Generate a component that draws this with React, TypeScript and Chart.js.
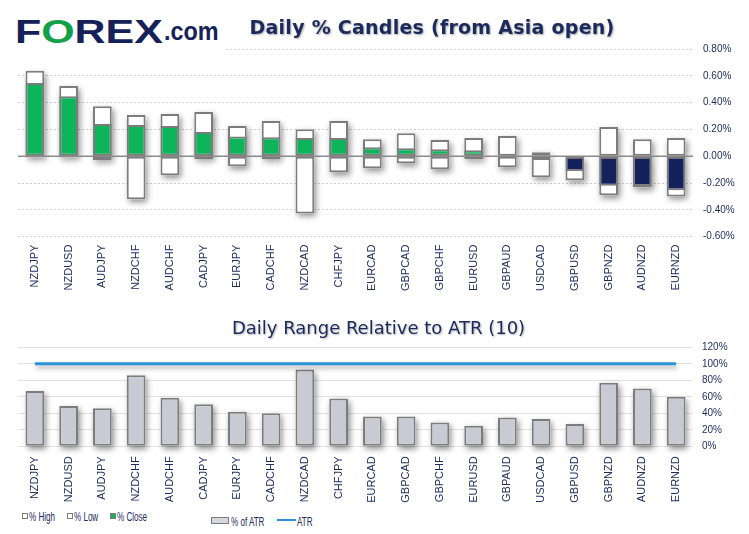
import React, { useEffect, useRef } from "react";
import { Chart, registerables } from "chart.js";
Chart.register(...registerables);

// ---- Data ----
const pairs = [
  "NZDJPY", "NZDUSD", "AUDJPY", "NZDCHF", "AUDCHF", "CADJPY", "EURJPY", "CADCHF", "NZDCAD", "CHFJPY",
  "EURCAD", "GBPCAD", "GBPCHF", "EURUSD", "GBPAUD", "USDCAD", "GBPUSD", "GBPNZD", "AUDNZD", "EURNZD",
];
const pctHigh = [0.637, 0.524, 0.372, 0.307, 0.315, 0.33, 0.225, 0.262, 0.202, 0.262, 0.127, 0.172, 0.12, 0.135, 0.15, 0.03, 0.0, 0.217, 0.127, 0.135];
const pctClose = [0.547, 0.447, 0.24, 0.232, 0.225, 0.18, 0.147, 0.142, 0.135, 0.135, 0.067, 0.06, 0.052, 0.045, 0.005, -0.028, -0.112, -0.22, -0.225, -0.255];
const pctLow = [-0.01, -0.01, -0.028, -0.322, -0.142, -0.02, -0.075, -0.02, -0.427, -0.12, -0.09, -0.052, -0.097, -0.022, -0.082, -0.157, -0.18, -0.292, -0.232, -0.3];
const pctOfAtr = [67, 49, 46, 86, 59, 51, 42, 40, 93, 58, 36, 36, 29, 25, 35, 33, 27, 77, 70, 60];
const atrLevel = [100, 100, 100, 100, 100, 100, 100, 100, 100, 100, 100, 100, 100, 100, 100, 100, 100, 100, 100, 100];

const NAVY = "#1b2a5c";
const GREEN = "#0db45a";
const DARK = "#13225b";
const EDGE = "#7c7c7c";
const FONT = "'Liberation Sans', Arial, sans-serif";

const shadowPlugin = {
  id: "shadowPlugin",
  beforeDatasetsDraw(chart: any, _args: any, opts: any) {
    const ctx = chart.ctx;
    ctx.save();
    ctx.shadowColor = "rgba(0,0,0,0.45)";
    ctx.shadowBlur = 6;
    ctx.shadowOffsetX = 2;
    ctx.shadowOffsetY = 3;
    ctx.fillStyle = "#ffffff";
    chart.data.datasets.forEach((ds: any, i: number) => {
      const meta = chart.getDatasetMeta(i);
      if (meta.type !== "bar" || ds.noShadow) return;
      meta.data.forEach((el: any) => {
        const p = el.getProps(["x", "y", "base", "width"], true);
        const top = Math.min(p.y, p.base);
        const h = Math.abs(p.base - p.y);
        ctx.fillRect(p.x - p.width / 2, top, p.width, h);
      });
    });
    ctx.restore();
    if (opts && opts.zeroLine) {
      const y = chart.scales.y.getPixelForValue(0);
      const a = chart.chartArea;
      ctx.save();
      ctx.strokeStyle = "#8a8a8a";
      ctx.lineWidth = 1.5;
      ctx.beginPath();
      ctx.moveTo(a.left, y);
      ctx.lineTo(a.right, y);
      ctx.stroke();
      ctx.restore();
    }
  },
  beforeDatasetDraw(chart: any, args: any) {
    if (args.meta.type === "line") {
      const ctx = chart.ctx;
      ctx.save();
      ctx.shadowColor = "rgba(0,0,0,0.35)";
      ctx.shadowBlur = 5;
      ctx.shadowOffsetX = 1;
      ctx.shadowOffsetY = 3;
    }
  },
  afterDatasetDraw(chart: any, args: any) {
    if (args.meta.type === "line") chart.ctx.restore();
  },
};

export default function App() {
  const c1 = useRef<HTMLCanvasElement>(null);
  const c2 = useRef<HTMLCanvasElement>(null);

  useEffect(() => {
    const barCommon = {
      borderColor: EDGE,
      borderWidth: 2,
      borderSkipped: false,
      grouped: false,
      barPercentage: 0.555,
      categoryPercentage: 1,
    };
    const xAxis = (pad: number, h: number) => ({
      grid: { display: false },
      border: { display: false },
      ticks: {
        minRotation: 90,
        maxRotation: 90,
        autoSkip: false,
        color: NAVY,
        padding: pad,
        font: { family: FONT, size: 11 },
      },
      afterFit: (s: any) => {
        s.height = h;
        s.paddingLeft = 0;
        s.paddingRight = 0;
      },
    });
    const yFit = (s: any) => {
      s.width = 56;
      s.paddingTop = 0;
      s.paddingBottom = 0;
    };

    const ch1 = new Chart(c1.current!, {
      type: "bar",
      data: {
        labels: pairs,
        datasets: [
          {
            label: "% Close",
            data: pctClose.map((c) => [0, c]),
            backgroundColor: pctClose.map((c) => (c >= 0 ? GREEN : DARK)),
            order: 0,
            noShadow: true,
            ...barCommon,
          } as any,
          {
            label: "% High",
            data: pctHigh.map((h) => [0, h]),
            backgroundColor: "#ffffff",
            order: 1,
            ...barCommon,
          } as any,
          {
            label: "% Low",
            data: pctLow.map((l) => [l, 0]),
            backgroundColor: "#ffffff",
            order: 1,
            ...barCommon,
          } as any,
        ],
      },
      options: {
        responsive: false,
        maintainAspectRatio: false,
        animation: false,
        events: [],
        layout: { padding: { left: 18, top: 9, right: 0, bottom: 0 } },
        plugins: { legend: { display: false }, tooltip: { enabled: false }, shadowPlugin: { zeroLine: true } } as any,
        scales: {
          x: xAxis(0, 63.4) as any,
          y: {
            position: "right",
            min: -0.6,
            max: 0.8,
            grid: { color: "#cccccc", lineWidth: 1, drawTicks: false },
            border: { display: false, dash: [2, 2] },
            ticks: {
              stepSize: 0.2,
              padding: 10,
              color: NAVY,
              font: { family: FONT, size: 10 },
              callback: (v: any) => (Math.abs(v) < 1e-9 ? "0.00%" : Number(v).toFixed(2) + "%"),
            },
            afterFit: yFit,
          } as any,
        },
      },
      plugins: [shadowPlugin],
    });

    const ch2 = new Chart(c2.current!, {
      type: "bar",
      data: {
        labels: pairs,
        datasets: [
          {
            type: "line",
            label: "ATR",
            data: atrLevel,
            borderColor: "#2a94d4",
            borderWidth: 3,
            pointRadius: 0,
            fill: false,
            order: 0,
          } as any,
          {
            label: "% of ATR",
            data: pctOfAtr,
            backgroundColor: "#c9cbd4",
            order: 1,
            ...barCommon,
          } as any,
        ],
      },
      options: {
        responsive: false,
        maintainAspectRatio: false,
        animation: false,
        events: [],
        layout: { padding: { left: 18, top: 12.3, right: 0, bottom: 0 } },
        plugins: { legend: { display: false }, tooltip: { enabled: false } },
        scales: {
          x: xAxis(2, 58.7) as any,
          y: {
            position: "right",
            min: 0,
            max: 120,
            grid: { color: "#e2e2e2", lineWidth: 1, drawTicks: false },
            border: { display: false },
            ticks: {
              stepSize: 20,
              padding: 9,
              color: NAVY,
              font: { family: FONT, size: 10 },
              callback: (v: any) => v + "%",
            },
            afterFit: yFit,
          } as any,
        },
      },
      plugins: [shadowPlugin],
    });

    return () => {
      ch1.destroy();
      ch2.destroy();
    };
  }, []);

  const legendText = (text: string, left: number, top: number) => (
    <span
      style={{
        position: "absolute",
        left,
        top,
        fontFamily: FONT,
        fontSize: 13,
        lineHeight: "13px",
        color: NAVY,
        whiteSpace: "nowrap",
        display: "inline-block",
        transform: "scaleX(0.62)",
        transformOrigin: "left",
      }}
    >
      {text}
    </span>
  );
  const box = (left: number, top: number, w: number, h: number, bg: string) => (
    <div
      style={{
        position: "absolute",
        left,
        top,
        width: w,
        height: h,
        background: bg,
        border: `1px solid ${EDGE}`,
        boxSizing: "border-box",
      }}
    />
  );

  return (
    <div
      style={{
        position: "absolute",
        left: 0,
        top: 0,
        width: 749,
        height: 534,
        background: "#ffffff",
        overflow: "hidden",
      }}
    >
      <canvas ref={c1} width={749} height={260} style={{ position: "absolute", left: 0, top: 40 }} />
      <canvas ref={c2} width={749} height={170} style={{ position: "absolute", left: 0, top: 335 }} />

      {/* Logo */}
      <div style={{ position: "absolute", left: 0, top: 0, width: 224, height: 52, background: "#ffffff" }}>
        <span
          style={{
            position: "absolute",
            left: 15,
            top: 15,
            fontFamily: FONT,
            fontWeight: 700,
            fontSize: 33,
            lineHeight: "33px",
            color: "#172159",
            whiteSpace: "nowrap",
            display: "inline-block",
            transform: "scaleX(1.3)",
            transformOrigin: "left",
          }}
        >
          F<span style={{ color: "#12a04b" }}>O</span>REX
        </span>
        <span
          style={{
            position: "absolute",
            left: 164,
            top: 17.5,
            fontFamily: FONT,
            fontWeight: 700,
            fontSize: 26,
            lineHeight: "26px",
            color: "#172159",
            whiteSpace: "nowrap",
            display: "inline-block",
            transform: "scaleX(0.9)",
            transformOrigin: "left",
          }}
        >
          .com
        </span>
      </div>

      {/* Titles */}
      <div
        style={{
          position: "absolute",
          left: 432,
          top: 18,
          transform: "translateX(-50%)",
          fontFamily: "'DejaVu Sans', sans-serif",
          fontWeight: 700,
          fontSize: 19,
          lineHeight: "19px",
          letterSpacing: 0.25,
          color: NAVY,
          whiteSpace: "nowrap",
          textShadow: "1px 1px 2px rgba(0,0,0,0.35)",
        }}
      >
        Daily % Candles (from Asia open)
      </div>
      <div
        style={{
          position: "absolute",
          left: 378.5,
          top: 319.3,
          transform: "translateX(-50%)",
          fontFamily: "'DejaVu Sans', sans-serif",
          fontSize: 18,
          lineHeight: "18px",
          color: NAVY,
          whiteSpace: "nowrap",
          textShadow: "1px 1px 2px rgba(0,0,0,0.3)",
        }}
      >
        Daily Range Relative to ATR (10)
      </div>

      {/* Legend 1 */}
      {box(22, 513, 6, 6, "#ffffff")}
      {legendText("% High", 29, 509.5)}
      {box(67, 513, 6, 6, "#ffffff")}
      {legendText("% Low", 74, 509.5)}
      {box(110, 513, 6, 6, GREEN)}
      {legendText("% Close", 117, 509.5)}

      {/* Legend 2 */}
      {box(211, 517, 18, 7, "#d5d7de")}
      {legendText("% of ATR", 231, 514.5)}
      <div style={{ position: "absolute", left: 277, top: 519, width: 19, height: 2, background: "#2a94d4" }} />
      {legendText("ATR", 297, 514.5)}
    </div>
  );
}
